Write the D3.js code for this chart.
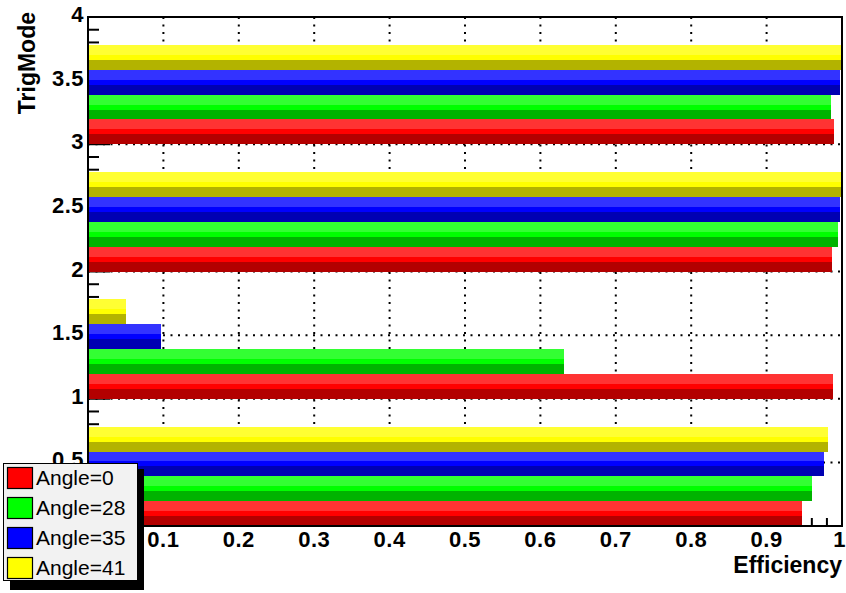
<!DOCTYPE html>
<html>
<head>
<meta charset="utf-8">
<script src="https://d3js.org/d3.v7.min.js"></script>
<style>
  body { margin: 0; background: #fff; }
  text { font-family: "Liberation Sans", Arial, Helvetica, sans-serif; }
</style>
</head>
<body>
<div id="chart"></div>
<script>
// trigger modes (bin low edges) and the four angle series
const trigModes = [0, 1, 2, 3];
const angleNames = ["Angle=0", "Angle=28", "Angle=35", "Angle=41"];
const effAngle0 = [0.947, 0.988, 0.987, 0.989];
const effAngle28 = [0.960, 0.631, 0.995, 0.985];
const effAngle35 = [0.976, 0.097, 0.997, 0.997];
const effAngle41 = [0.981, 0.050, 1.000, 0.999];
// "0" labels on both axes sit under the legend in the original, so they are left out
const xTicks = [0.1, 0.2, 0.3, 0.4, 0.5, 0.6, 0.7, 0.8, 0.9, 1];
const yTicks = [0.5, 1, 1.5, 2, 2.5, 3, 3.5, 4];

const series = [effAngle0, effAngle28, effAngle35, effAngle41];
const baseCol = ["#ff0000", "#00ff00", "#0000ff", "#ffff00"];
const lightCol = ["#ff3333", "#33ff33", "#3333ff", "#ffff33"];
const darkCol = ["#b30000", "#00b300", "#0000b3", "#b3b300"];
const barW = 0.195;

const width = 846, height = 593;
const margin = {top: 17, right: 4, bottom: 67, left: 88};

const svg = d3.select("#chart").append("svg")
  .attr("width", width)
  .attr("height", height);

const x = d3.scaleLinear().domain([0, 1]).range([margin.left, width - margin.right]);
const y = d3.scaleLinear().domain([0, 4]).range([height - margin.bottom, margin.top]);

// dotted grid
const grid = svg.append("g")
  .attr("stroke", "#000")
  .attr("stroke-width", 2)
  .attr("stroke-dasharray", "2,5.5");
grid.selectAll(".vg").data(xTicks.slice(0, -1)).enter().append("line")
  .attr("x1", d => x(d)).attr("x2", d => x(d))
  .attr("y1", y(4)).attr("y2", y(0));
grid.selectAll(".hg").data(yTicks.slice(0, -1)).enter().append("line")
  .attr("x1", x(0)).attr("x2", x(1))
  .attr("y1", d => y(d)).attr("y2", d => y(d));

// axis ticks (drawn under the bars, like the original)
const minorY = d3.range(0, 40).map(i => i / 10);
svg.append("g").selectAll("line").data(minorY).enter().append("line")
  .attr("x1", x(0)).attr("x2", d => x(0) + (Math.round(d * 10) % 5 === 0 ? 22 : 11))
  .attr("y1", d => y(d)).attr("y2", d => y(d))
  .attr("stroke", "#000").attr("stroke-width", 2);
const minorX = d3.range(0, 51).map(i => i / 50);
svg.append("g").selectAll("line").data(minorX).enter().append("line")
  .attr("x1", d => x(d)).attr("x2", d => x(d))
  .attr("y1", y(0)).attr("y2", d => y(0) - (Math.round(d * 50) % 5 === 0 ? 15 : 8))
  .attr("stroke", "#000").attr("stroke-width", 2);

// bars, each split in light / base / dark bands
const bars = svg.append("g").attr("shape-rendering", "crispEdges");
series.forEach((vals, s) => {
  const g = bars.append("g");
  trigModes.forEach((t, i) => {
    const lo = t + s * barW, hi = lo + barW;
    const bands = [
      [hi - 0.4 * barW, hi, lightCol[s]],
      [lo + 0.4 * barW, hi - 0.4 * barW, baseCol[s]],
      [lo, lo + 0.4 * barW, darkCol[s]]
    ];
    bands.forEach(b => {
      g.append("rect")
        .attr("x", x(0))
        .attr("width", x(vals[i]) - x(0))
        .attr("y", y(b[1]))
        .attr("height", y(b[0]) - y(b[1]))
        .attr("fill", b[2]);
    });
  });
});

// frame
svg.append("rect")
  .attr("x", x(0)).attr("y", y(4))
  .attr("width", x(1) - x(0)).attr("height", y(0) - y(4))
  .attr("fill", "none").attr("stroke", "#000").attr("stroke-width", 2);

// tick labels
svg.append("g").selectAll("text").data(xTicks).enter().append("text")
  .attr("x", d => x(d)).attr("y", 547)
  .attr("text-anchor", d => d === 1 ? "end" : "middle")
  .attr("dx", d => d === 1 ? 4 : 0)
  .style("font-size", "22px").style("font-weight", "bold")
  .style("letter-spacing", "0.5px")
  .text(d => d === 1 ? "1" : d.toFixed(1));
svg.append("g").selectAll("text").data(yTicks).enter().append("text")
  .attr("x", 84).attr("y", d => y(d) + 5)
  .attr("text-anchor", "end")
  .style("font-size", "22px").style("font-weight", "bold")
  .style("letter-spacing", "0.5px")
  .text(d => String(d));

// axis titles
svg.append("text")
  .attr("x", 842).attr("y", 573)
  .attr("text-anchor", "end")
  .style("font-size", "23px").style("font-weight", "bold")
  .text("Efficiency");
svg.append("text")
  .attr("transform", "translate(35,12) rotate(-90)")
  .attr("text-anchor", "end")
  .style("font-size", "23px").style("font-weight", "bold")
  .text("TrigMode");

// legend with shadow
const leg = svg.append("g");
leg.append("rect").attr("x", 10).attr("y", 469).attr("width", 134).attr("height", 121).attr("fill", "#000");
leg.append("rect").attr("x", 3.5).attr("y", 463.5).attr("width", 134).attr("height", 117)
  .attr("fill", "#f2f2f2").attr("stroke", "#000").attr("stroke-width", 1);
angleNames.forEach((name, i) => {
  const cy = 478 + i * 30;
  leg.append("rect").attr("x", 7.5).attr("y", cy - 10.5).attr("width", 25).attr("height", 21)
    .attr("fill", baseCol[i]).attr("stroke", "#000").attr("stroke-width", 1.2);
  leg.append("text").attr("x", 36).attr("y", cy + 7)
    .style("font-size", "21px")
    .text(name);
});
</script>
</body>
</html>
